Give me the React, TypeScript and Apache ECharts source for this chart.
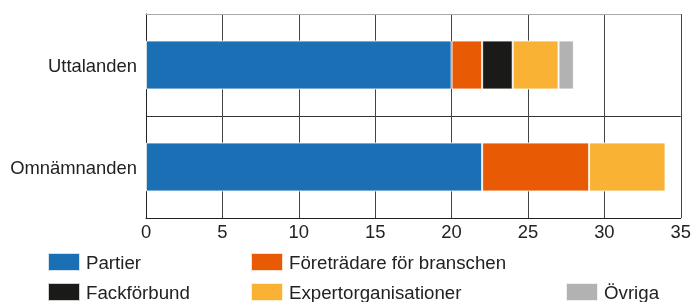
import React, { useEffect, useRef } from "react";
import * as echarts from "echarts";

const categories = ["Uttalanden", "Omnämnanden"];
const seriesNames = [
  "Partier",
  "Företrädare för branschen",
  "Fackförbund",
  "Expertorganisationer",
  "Övriga",
];
const partier = [20, 22];
const foretradare = [2, 7];
const fackforbund = [2, 0];
const expert = [3, 5];
const ovriga = [1, 0];
const xTicks = [0, 5, 10, 15, 20, 25, 30, 35];

const colors = ["#1a6fb5", "#e85a04", "#1a1a18", "#f9b233", "#b2b2b2"];
const legendPos = [
  { left: 47, top: 252 },
  { left: 250, top: 252 },
  { left: 47, top: 282 },
  { left: 250, top: 282 },
  { left: 565, top: 282 },
];

export default function App() {
  const ref = useRef<HTMLDivElement>(null);
  useEffect(() => {
    if (!ref.current) return;
    const chart = echarts.init(ref.current, undefined, { renderer: "svg" });
    const values = [partier, foretradare, fackforbund, expert, ovriga];
    const font = "Liberation Sans, Arial, sans-serif";
    chart.setOption({
      animation: false,
      textStyle: { fontFamily: font },
      grid: { left: 146, right: 13, top: 14, bottom: 84, containLabel: false },
      xAxis: [
        {
          type: "value",
          min: xTicks[0],
          max: xTicks[xTicks.length - 1],
          interval: 5,
          axisLine: { show: true, lineStyle: { color: "#222", width: 1 } },
          axisTick: { show: false },
          axisLabel: { color: "#222", fontSize: 18.4, fontFamily: font, margin: 4 },
          splitLine: { show: true, lineStyle: { color: "#444", width: 1 } },
        },
        {
          type: "value",
          position: "top",
          min: xTicks[0],
          max: xTicks[xTicks.length - 1],
          interval: 5,
          axisLine: { show: true, lineStyle: { color: "#aaaaaa", width: 1 } },
          axisTick: { show: false },
          axisLabel: { show: false },
          splitLine: { show: false },
        },
      ],
      yAxis: {
        type: "category",
        data: categories,
        inverse: true,
        axisLine: { show: true, lineStyle: { color: "#222", width: 1 } },
        axisTick: { show: false },
        axisLabel: {
          color: "#222",
          fontSize: 18.4,
          fontFamily: font,
          margin: 9,
          padding: [3, 0, 0, 0],
        },
        splitLine: { show: true, lineStyle: { color: "#333", width: 1 } },
      },
      legend: seriesNames.map((n, i) => ({
        data: [n],
        left: legendPos[i].left,
        top: legendPos[i].top,
        padding: 0,
        itemWidth: 32,
        itemHeight: 18,
        icon: "rect",
        selectedMode: false,
        textStyle: { color: "#222", fontSize: 18.7, fontFamily: font, padding: [0, 0, 0, 1] },
      })),
      series: seriesNames.map((n, i) => ({
        name: n,
        type: "bar",
        stack: "total",
        barWidth: "48%",
        data: values[i].map((v) => (v === 0 ? null : v)),
        itemStyle: {
          color: colors[i],
          borderColor: "rgba(255,255,255,0.8)",
          borderWidth: 1,
        },
      })),
    });
    return () => chart.dispose();
  }, []);
  return (
    <div
      ref={ref}
      style={{ position: "fixed", left: 0, top: 0, width: 694, height: 302 }}
    />
  );
}
